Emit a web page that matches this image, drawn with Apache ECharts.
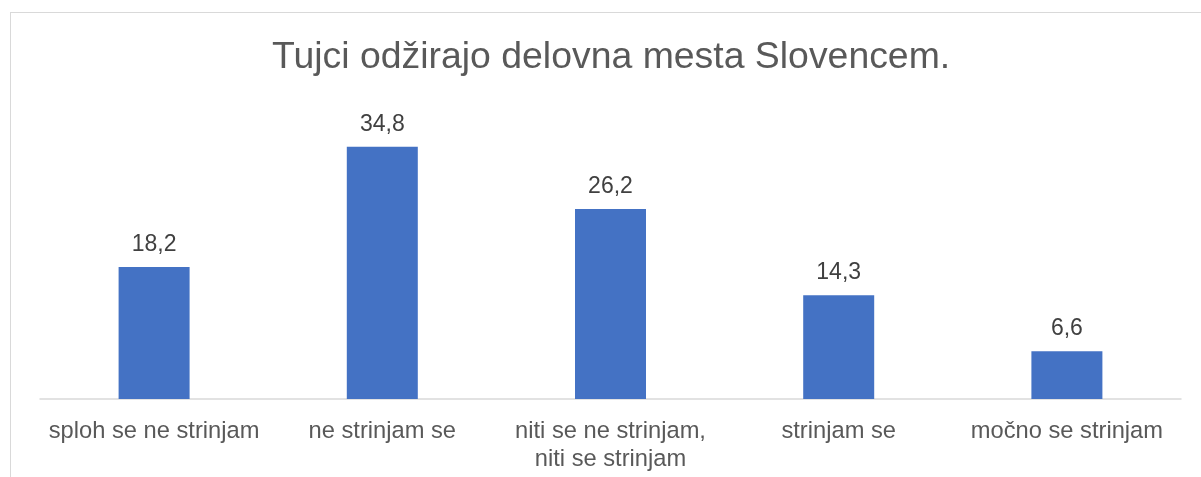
<!DOCTYPE html>
<html>
<head>
<meta charset="utf-8">
<script src="https://cdn.jsdelivr.net/npm/echarts@6/dist/echarts.min.js"></script>
<style>
  html, body { margin: 0; padding: 0; background: #fff; }
  #wrap { position: relative; width: 1201px; height: 477px; overflow: hidden; }
  #frame { position: absolute; left: 10px; top: 12px; width: 1400px; height: 600px;
           border-left: 1px solid #d9d9d9; border-top: 1px solid #d9d9d9; }
  #chart { position: absolute; left: 0; top: 0; width: 1201px; height: 477px; }
</style>
</head>
<body>
<div id="wrap">
  <div id="frame"></div>
  <div id="chart"></div>
</div>
<script>
const titleText = 'Tujci odžirajo delovna mesta Slovencem.'
const categories = [
  'sploh se ne strinjam',
  'ne strinjam se',
  'niti se ne strinjam,\nniti se strinjam',
  'strinjam se',
  'močno se strinjam'
]
const values = [18.2, 34.8, 26.2, 14.3, 6.6]

const chart = echarts.init(document.getElementById('chart'))
const font = "'Liberation Sans', Arial, sans-serif"

chart.setOption({
  animation: false,
  title: {
    text: titleText,
    left: 267,
    top: 34,
    textStyle: { color: '#595959', fontSize: 37.4, fontWeight: 'normal', fontFamily: font }
  },
  grid: { left: 40, right: 20, top: 109, bottom: 78 },
  xAxis: {
    type: 'category',
    data: categories,
    axisLine: { lineStyle: { color: '#d9d9d9', width: 1.5 } },
    axisTick: { show: false },
    axisLabel: {
      color: '#595959', fontSize: 23.7, fontFamily: font,
      margin: 18, lineHeight: 28, interval: 0, align: 'center'
    }
  },
  yAxis: {
    type: 'value',
    min: 0,
    max: 40,
    show: false,
    splitLine: { show: false }
  },
  series: [{
    type: 'bar',
    data: values,
    barWidth: 71,
    itemStyle: { color: '#4472c4' },
    label: {
      show: true,
      position: 'top',
      distance: 11,
      color: '#404040',
      fontSize: 23,
      fontFamily: font,
      formatter: p => String(p.value).replace('.', ',')
    }
  }]
})
</script>
</body>
</html>
